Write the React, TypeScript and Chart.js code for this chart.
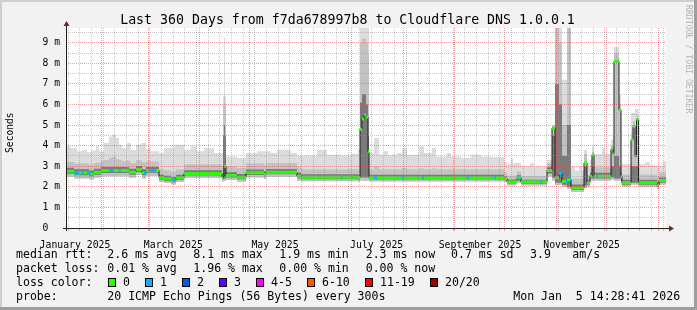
import { useEffect, useRef } from "react";
import { Chart, registerables } from "chart.js";

Chart.register(...registerables);

const W = 697;
const H = 310;
const MONO = '"DejaVu Sans Mono", monospace';

// ---- time frame (360 days ending Mon Jan 5 14:28:41 2026) ----
const END_MS = Date.UTC(2026, 0, 5, 14, 28, 41);
const SPAN_DAYS = 360;
const DAY_MS = 86400000;
const START_MS = END_MS - SPAN_DAYS * DAY_MS;

// ---- data: step breakpoints (days after start) and values in ms ----
const stepDays = [
  0, 3, 4.8, 6.6, 9.6, 12.6, 13.8, 15, 16.8, 18, 19.8, 21, 22.8, 25.8, 27.6, 30, 31.8, 33.6, 36.6, 37.8, 39, 42, 45, 45.6, 48, 51,
  55.8, 58.8, 63, 64.8, 66,
  70.8, 75, 78.6, 82.8, 88.8, 93.6, 94.2, 94.8, 95.4, 96, 102.6, 108, 114.6, 118.8, 120, 123, 126.6, 135, 138.6,
  141, 150.6, 156.6, 165, 171, 175.2,
  176.4, 177.6, 178.8, 180, 181.2,
  181.8, 184.8, 187.8, 190.8, 193.2, 198.6, 201.6, 204.6, 211.8, 214.8, 219.6, 222, 228.6, 231, 237, 243, 249, 255,
  262.8, 264.6, 267, 268.2, 270, 270.6, 273, 278.4, 280.8,
  288.6, 291.6, 293.4, 295.8, 297.6, 300.6, 303, 305.4, 307.8, 309.6, 310.8, 312.6, 314.4, 315.6, 316.8, 321.6, 323.4,
  327, 328.2, 328.8, 331.8, 333, 333.6, 339, 340.2, 341.4, 342.3, 343.5, 347.4, 350.4, 354.6, 355.8, 358.2,
];
const medianMs = [
  2.76, 2.76, 2.68, 2.68, 2.68, 2.68, 2.63, 2.63, 2.71, 2.71, 2.71, 2.79, 2.79, 2.79, 2.79, 2.79, 2.79, 2.79, 2.79, 2.71, 2.71, 2.84, 2.84, 2.68, 2.8, 2.8,
  2.44, 2.39, 2.32, 2.32, 2.44,
  2.65, 2.65, 2.65, 2.65, 2.65, 2.48, 2.48, 3.0, 3.0, 2.55, 2.47, 2.68, 2.68, 2.6, 2.71, 2.71, 2.71, 2.71, 2.52,
  2.47, 2.47, 2.47, 2.47, 2.47, 2.45,
  4.8, 5.3, 5.5, 5.4, 3.7,
  2.44, 2.44, 2.44, 2.44, 2.44, 2.44, 2.44, 2.44, 2.44, 2.44, 2.44, 2.44, 2.44, 2.44, 2.44, 2.44, 2.44, 2.44,
  2.4, 2.24, 2.24, 2.24, 2.3, 2.44, 2.23, 2.23, 2.23,
  2.8, 4.85, 2.44, 2.65, 2.27, 2.35, 1.95, 1.95, 1.95, 1.95, 3.16, 2.2, 2.52, 3.56, 2.52, 2.52, 2.52,
  3.84, 3.6, 8.1, 5.74, 2.5, 2.2, 4.29, 4.93, 3.48, 5.26, 2.2, 2.2, 2.2, 2.08, 2.31, 2.31,
];
const smokeLowMs = [
  2.49, 2.49, 2.41, 2.41, 2.41, 2.41, 2.36, 2.36, 2.44, 2.44, 2.44, 2.52, 2.52, 2.52, 2.52, 2.52, 2.52, 2.52, 2.52, 2.44, 2.44, 2.57, 2.57, 2.41, 2.53, 2.53,
  2.24, 2.19, 2.12, 2.12, 2.24,
  2.43, 2.43, 2.43, 2.43, 2.43, 2.26, 2.26, 2.3, 2.3, 2.33, 2.25, 2.46, 2.46, 2.38, 2.49, 2.49, 2.49, 2.49, 2.3,
  2.27, 2.27, 2.27, 2.27, 2.27, 2.25,
  2.3, 2.3, 2.3, 2.3, 2.3,
  2.26, 2.26, 2.26, 2.26, 2.26, 2.26, 2.26, 2.26, 2.26, 2.26, 2.26, 2.26, 2.26, 2.26, 2.26, 2.26, 2.26, 2.26,
  2.23, 2.07, 2.07, 2.07, 2.13, 2.2, 2.06, 2.06, 2.06,
  2.5, 2.3, 2.1, 2.1, 2.0, 1.9, 1.75, 1.75, 1.75, 1.75, 1.95, 2.0, 2.3, 2.3, 2.3, 2.3, 2.3,
  2.35, 2.35, 2.3, 2.3, 2.1, 2.0, 2.1, 2.1, 2.1, 2.1, 2.0, 2.0, 2.0, 1.9, 2.1, 2.1,
];
const smokeHighMs = [
  3.97, 3.89, 3.89, 3.73, 3.8, 3.68, 3.68, 3.77, 3.77, 3.97, 3.73, 3.73, 4.13, 4.45, 4.53, 4.37, 4.05, 3.89, 4.13, 4.13, 3.8, 4.05, 4.13, 4.13, 3.84, 3.73,
  3.65, 3.89, 3.89, 4.05, 4.05,
  3.8, 3.97, 3.73, 3.89, 3.65, 3.65, 6.4, 9.27, 6.4, 3.48, 3.4, 3.65, 3.73, 3.73, 3.73, 3.65, 3.8, 3.65, 3.52,
  3.52, 3.8, 3.56, 3.52, 3.61, 3.8,
  9.72, 9.72, 9.72, 9.72, 9.72,
  3.65, 4.37, 3.56, 3.73, 3.56, 3.65, 3.89, 3.56, 3.97, 3.65, 3.89, 3.48, 3.65, 3.48, 3.4, 3.56, 3.48, 3.45,
  3.2, 3.1, 3.4, 3.16, 3.16, 3.16, 3.0, 3.16, 3.0,
  3.3, 5.0, 9.72, 9.72, 7.2, 9.72, 3.0, 2.8, 3.0, 2.8, 3.8, 3.0, 3.3, 3.96, 3.6, 3.9, 3.6,
  4.3, 4.5, 8.8, 6.45, 3.1, 3.1, 5.6, 5.6, 5.8, 5.8, 3.1, 3.2, 3.05, 3.0, 3.0, 3.24,
];
const smokeMidMs = [
  3.21, 3.21, 3.13, 3.13, 3.13, 3.13, 3.08, 3.08, 3.16, 3.16, 3.16, 3.24, 3.3, 3.4, 3.45, 3.35, 3.3, 3.24, 3.3, 3.25, 3.16, 3.29, 3.29, 3.2, 3.25, 3.25,
  2.86, 2.81, 2.74, 2.74, 2.86,
  3.1, 3.1, 3.1, 3.1, 3.1, 2.93, 6.0, 6.4, 6.0, 3.0, 2.92, 3.13, 3.13, 3.05, 3.16, 3.16, 3.16, 3.16, 2.97,
  2.85, 2.85, 2.85, 2.85, 2.85, 2.83,
  9.0, 9.2, 9.2, 9.0, 8.5,
  2.86, 3.0, 2.86, 2.86, 2.86, 2.86, 2.9, 2.86, 2.9, 2.86, 2.9, 2.86, 2.86, 2.86, 2.86, 2.86, 2.86, 2.86,
  2.7, 2.54, 2.54, 2.54, 2.6, 2.74, 2.53, 2.53, 2.53,
  3.15, 4.95, 9.72, 9.0, 5.0, 9.72, 2.4, 2.4, 2.4, 2.4, 3.6, 2.6, 2.9, 3.7, 2.95, 2.95, 2.95,
  4.0, 4.0, 8.5, 6.0, 2.8, 2.6, 4.6, 5.2, 5.0, 5.5, 2.6, 2.6, 2.6, 2.5, 2.7, 2.7,
];
const coreLowMs = [
  2.64, 2.64, 2.56, 2.56, 2.56, 2.56, 2.51, 2.51, 2.59, 2.59, 2.59, 2.67, 2.67, 2.67, 2.67, 2.67, 2.67, 2.67, 2.67, 2.59, 2.59, 2.72, 2.72, 2.56, 2.68, 2.68,
  2.34, 2.29, 2.22, 2.22, 2.34,
  2.55, 2.55, 2.55, 2.55, 2.55, 2.38, 2.38, 2.4, 2.4, 2.45, 2.37, 2.58, 2.58, 2.5, 2.61, 2.61, 2.61, 2.61, 2.42,
  2.37, 2.37, 2.37, 2.37, 2.37, 2.35,
  2.45, 2.45, 2.45, 2.45, 2.45,
  2.36, 2.36, 2.36, 2.36, 2.36, 2.36, 2.36, 2.36, 2.36, 2.36, 2.36, 2.36, 2.36, 2.36, 2.36, 2.36, 2.36, 2.36,
  2.32, 2.16, 2.16, 2.16, 2.22, 2.3, 2.15, 2.15, 2.15,
  2.65, 2.45, 2.2, 2.2, 2.1, 2.0, 1.85, 1.85, 1.85, 1.85, 2.05, 2.1, 2.4, 2.4, 2.4, 2.4, 2.4,
  2.45, 2.45, 2.4, 2.4, 2.3, 2.1, 2.2, 2.2, 2.2, 2.2, 2.1, 2.1, 2.1, 2.0, 2.2, 2.2,
];
const coreHighMs = [
  2.93, 2.93, 2.85, 2.85, 2.85, 2.85, 2.8, 2.8, 2.88, 2.88, 2.88, 2.96, 2.96, 2.96, 2.96, 2.96, 2.96, 2.96, 2.96, 2.88, 2.88, 3.01, 3.01, 2.85, 2.97, 2.97,
  2.59, 2.54, 2.47, 2.47, 2.59,
  2.81, 2.81, 2.81, 2.81, 2.81, 2.64, 4.5, 5.0, 4.5, 2.71, 2.63, 2.84, 2.84, 2.76, 2.87, 2.87, 2.87, 2.87, 2.68,
  2.61, 2.61, 2.61, 2.61, 2.61, 2.59,
  6.1, 6.5, 6.5, 6.0, 4.5,
  2.59, 2.59, 2.59, 2.59, 2.59, 2.59, 2.59, 2.59, 2.59, 2.59, 2.59, 2.59, 2.59, 2.59, 2.59, 2.59, 2.59, 2.59,
  2.52, 2.36, 2.36, 2.36, 2.42, 2.56, 2.35, 2.35, 2.35,
  2.95, 4.5, 7.0, 6.0, 3.5, 5.0, 2.12, 2.12, 2.12, 2.12, 3.0, 2.35, 2.68, 3.0, 2.68, 2.68, 2.68,
  3.0, 3.0, 3.5, 3.0, 2.65, 2.35, 3.0, 3.0, 3.0, 3.0, 2.35, 2.35, 2.35, 2.25, 2.45, 2.45,
];
// intervals where the median carries the "1 lost" colour
const loss1FromDays = [4.8, 9.6, 12.6, 25.8, 31.8, 46.8, 49.8, 63.6, 165, 184.8, 201.6, 213.6, 240.6, 256.8, 272.4, 284.4, 295.8, 300, 302.4, 318];
const loss1ToDays = [7.8, 10.8, 15, 28.8, 33, 48.6, 54, 66, 165.9, 186.6, 202.5, 214.8, 241.8, 258, 273, 285.6, 297.6, 300.9, 303, 318.9];

// ---- tick labels ----
const monthLabels = ["January 2025", "March 2025", "May 2025", "July 2025", "September 2025", "November 2025"];
const labelMonths = [0, 2, 4, 6, 8, 10];
const yTickValues = [0, 0.5, 1, 1.5, 2, 2.5, 3, 3.5, 4, 4.5, 5, 5.5, 6, 6.5, 7, 7.5, 8, 8.5, 9, 9.5];
const yTickLabels = ["0  ", "", "1 m", "", "2 m", "", "3 m", "", "4 m", "", "5 m", "", "6 m", "", "7 m", "", "8 m", "", "9 m", ""];

// ---- texts ----
const titleText = "Last 360 Days from f7da678997b8 to Cloudflare DNS 1.0.0.1";
const yTitle = "Seconds";
const watermark = "RRDTOOL / TOBI OETIKER";
const rttLine = ["median rtt:", "2.6 ms avg", "8.1 ms max", "1.9 ms min", "2.3 ms now", "0.7 ms sd", "3.9", "am/s"];
const lossLine = ["packet loss:", "0.01 % avg", "1.96 % max", "0.00 % min", "0.00 % now"];
const lossColorTitle = "loss color:";
const lossColorLabels = ["0", "1", "2", "3", "4-5", "6-10", "11-19", "20/20"];
const lossColors = ["#26ff00", "#00b8ff", "#0059ff", "#5e00ff", "#ff00ff", "#ff5500", "#ff0000", "#a10000"];
const probeLine = ["probe:", "20 ICMP Echo Pings (56 Bytes) every 300s", "Mon Jan  5 14:28:41 2026"];

const GRID = "rgba(143,143,143,0.5)";
const MGRID = "rgba(222,79,79,0.55)";

const dayOf = (ms: number) => (ms - START_MS) / DAY_MS;

function monthStarts(): number[] {
  const out: number[] = [];
  for (let m = 0; m <= 12; m++) {
    const d = dayOf(Date.UTC(2025, m, 1));
    if (d >= 0 && d <= SPAN_DAYS) out.push(d);
  }
  return out;
}
function weekStarts(): number[] {
  const out: number[] = [];
  let t = Date.UTC(2025, 0, 12); // Sunday
  while (dayOf(t) <= SPAN_DAYS) {
    out.push(dayOf(t));
    t += 7 * DAY_MS;
  }
  return out;
}

function stepPoints(vals: number[]) {
  const pts = stepDays.map((x, i) => ({ x, y: vals[i] }));
  pts.push({ x: SPAN_DAYS, y: vals[vals.length - 1] });
  return pts;
}
function medianAt(day: number): number {
  let idx = 0;
  for (let i = 0; i < stepDays.length; i++) if (stepDays[i] <= day) idx = i;
  return medianMs[idx];
}

export default function App() {
  const ref = useRef<HTMLCanvasElement>(null);
  useEffect(() => {
    const prevMargin = document.body.style.margin;
    document.body.style.margin = "0";

    const months = monthStarts();
    const monthSet = new Set(months);
    const weeks = weekStarts().filter((w) => months.every((m) => Math.abs(m - w) > 0.01));
    const gridDays = [...months, ...weeks].sort((a, b) => a - b);
    const labelDays = labelMonths.map((m) => dayOf(Date.UTC(2025, m, 1)) + 15);

    const greenPts: { x: number; y: number | null }[] = [];
    stepDays.forEach((x, i) => {
      const x2 = i + 1 < stepDays.length ? stepDays[i + 1] : SPAN_DAYS;
      greenPts.push({ x, y: medianMs[i] }, { x: x2, y: medianMs[i] }, { x: x2, y: null });
    });
    const bluePts: { x: number; y: number | null }[] = [];
    loss1FromDays.forEach((a, i) => {
      const v = medianAt(a);
      bluePts.push({ x: a, y: v }, { x: loss1ToDays[i], y: v }, { x: loss1ToDays[i], y: null });
    });

    const none = "rgba(0,0,0,0)";
    const bandBase = { stepped: true, borderWidth: 0, borderColor: none, pointRadius: 0, xAxisID: "x", yAxisID: "y" };

    const rrdPlugin = {
      id: "rrdDecor",
      beforeDraw(chart: any) {
        const { ctx, chartArea: a } = chart;
        ctx.save();
        ctx.fillStyle = "#f2f2f2";
        ctx.fillRect(0, 0, W, H);
        ctx.fillStyle = "#cfcfcf";
        ctx.fillRect(0, 0, W, 2);
        ctx.fillRect(0, 0, 2, H);
        ctx.fillStyle = "#9e9e9e";
        ctx.fillRect(W - 3, 0, 3, H);
        ctx.fillRect(0, H - 3, W, 3);
        ctx.fillStyle = "#ffffff";
        ctx.fillRect(a.left, a.top, a.right - a.left, a.bottom - a.top);
        ctx.restore();
      },
      afterDraw(chart: any) {
        const { ctx, chartArea: a } = chart;
        ctx.save();
        // axes
        ctx.strokeStyle = "#1f1f1f";
        ctx.lineWidth = 1;
        ctx.beginPath();
        ctx.moveTo(a.left + 0.5, a.bottom + 3);
        ctx.lineTo(a.left + 0.5, a.top - 2);
        ctx.moveTo(a.left - 3, a.bottom + 0.5);
        ctx.lineTo(a.right + 4, a.bottom + 0.5);
        ctx.stroke();
        ctx.fillStyle = "#801f1f";
        ctx.beginPath();
        ctx.moveTo(a.left - 2.5, a.top - 2);
        ctx.lineTo(a.left + 3.5, a.top - 2);
        ctx.lineTo(a.left + 0.5, a.top - 7);
        ctx.closePath();
        ctx.fill();
        ctx.beginPath();
        ctx.moveTo(a.right + 3, a.bottom - 2.5);
        ctx.lineTo(a.right + 3, a.bottom + 3.5);
        ctx.lineTo(a.right + 8, a.bottom + 0.5);
        ctx.closePath();
        ctx.fill();

        // title
        ctx.fillStyle = "#000";
        ctx.textBaseline = "alphabetic";
        ctx.textAlign = "center";
        ctx.font = `13.25px ${MONO}`;
        ctx.fillText(titleText, 347.5, 23.5);

        // y title
        ctx.save();
        ctx.translate(10, 132.7);
        ctx.rotate(-Math.PI / 2);
        ctx.textBaseline = "middle";
        ctx.font = `9.6px ${MONO}`;
        ctx.fillText(yTitle, 0, 0);
        ctx.restore();

        // watermark
        ctx.save();
        ctx.translate(687.7, 5);
        ctx.rotate(Math.PI / 2);
        ctx.textAlign = "left";
        ctx.textBaseline = "middle";
        ctx.fillStyle = "#b4b4b4";
        ctx.font = `8.2px ${MONO}`;
        ctx.fillText(watermark, 0, 0);
        ctx.restore();

        // legend
        ctx.textAlign = "left";
        ctx.font = `11.55px ${MONO}`;
        ctx.fillStyle = "#000";
        const rttX = [16, 107.3, 193.3, 279.3, 365.7, 451, 530, 572.3];
        rttLine.forEach((s, i) => ctx.fillText(s, rttX[i], 258));
        const lossX = [16, 107.3, 193.3, 279.3, 365.7];
        lossLine.forEach((s, i) => ctx.fillText(s, lossX[i], 272));
        ctx.fillText(lossColorTitle, 16, 286);
        const boxX = [108, 145, 182, 219, 256, 307, 365, 430];
        lossColorLabels.forEach((s, i) => {
          ctx.fillStyle = "#000";
          ctx.fillRect(boxX[i], 278, 8, 9);
          ctx.fillStyle = lossColors[i];
          ctx.fillRect(boxX[i] + 1, 279, 6, 7);
          ctx.fillStyle = "#000";
          ctx.fillText(s, boxX[i] + 15, 286);
        });
        const probeX = [16, 107.3, 513.3];
        probeLine.forEach((s, i) => ctx.fillText(s, probeX[i], 300));
        ctx.restore();
      },
    };

    const chart = new Chart(ref.current as HTMLCanvasElement, {
      type: "line",
      data: {
        datasets: [
          { ...bandBase, data: stepPoints(smokeLowMs), backgroundColor: none, fill: false, order: 100 },
          { ...bandBase, data: stepPoints(smokeHighMs), backgroundColor: "#dcdcdc", fill: 0, order: 90 },
          { ...bandBase, data: stepPoints(smokeMidMs), backgroundColor: "#c2c2c2", fill: 0, order: 80 },
          { ...bandBase, data: stepPoints(coreLowMs), backgroundColor: none, fill: false, order: 100 },
          { ...bandBase, data: stepPoints(coreHighMs), backgroundColor: "#7a7a7a", fill: 3, order: 70 },
          {
            data: stepPoints(medianMs), stepped: true, borderWidth: 1, borderColor: "#1f1f1f",
            pointRadius: 0, fill: false, order: 30, xAxisID: "x", yAxisID: "y",
          },
          {
            data: greenPts, borderWidth: 3, borderColor: lossColors[0], borderCapStyle: "butt",
            pointRadius: 0, fill: false, spanGaps: false, order: 20, xAxisID: "x", yAxisID: "y",
          },
          {
            data: bluePts, borderWidth: 3, borderColor: lossColors[1], borderCapStyle: "butt",
            pointRadius: 0, fill: false, spanGaps: false, order: 10, xAxisID: "x", yAxisID: "y",
          },
        ] as any,
      },
      options: {
        responsive: false,
        animation: false,
        devicePixelRatio: 1,
        events: [],
        layout: { padding: { top: 28, right: 31, bottom: 0, left: 0 } },
        plugins: { legend: { display: false }, tooltip: { enabled: false }, title: { display: false } },
        scales: {
          x: {
            type: "linear", position: "bottom", min: 0, max: SPAN_DAYS, weight: 0,
            afterBuildTicks: (ax: any) => { ax.ticks = gridDays.map((v) => ({ value: v })); },
            afterFit: (ax: any) => { ax.height = 3; },
            ticks: { display: false },
            grid: {
              z: 1, lineWidth: 1, drawTicks: true, tickLength: 3, tickBorderDash: [],
              color: (c: any) => (c.tick && monthSet.has(c.tick.value) ? MGRID : GRID),
              tickColor: (c: any) => (c.tick && monthSet.has(c.tick.value) ? MGRID : GRID),
            },
            border: { display: false, dash: [1, 1] },
          },
          x2: {
            type: "linear", position: "bottom", min: 0, max: SPAN_DAYS, weight: 1,
            afterBuildTicks: (ax: any) => { ax.ticks = labelDays.map((v) => ({ value: v })); },
            afterFit: (ax: any) => { ax.height = 79; },
            ticks: {
              autoSkip: false, maxRotation: 0, minRotation: 0, padding: 1, color: "#000",
              font: { family: MONO, size: 9.8, lineHeight: 1.2 },
              callback: (_v: any, i: number) => monthLabels[i],
            },
            grid: { display: false },
            border: { display: false },
          },
          y: {
            type: "linear", position: "left", min: 0, max: 9.72,
            afterBuildTicks: (ax: any) => { ax.ticks = yTickValues.map((v) => ({ value: v })); },
            afterFit: (ax: any) => { ax.width = 66; },
            ticks: {
              autoSkip: false, padding: 6, color: "#000",
              font: { family: MONO, size: 9.7, lineHeight: 1.2 },
              callback: (_v: any, i: number) => yTickLabels[i],
            },
            grid: {
              z: 1, lineWidth: 1, drawTicks: false,
              color: (c: any) => (c.tick && c.tick.value % 1 === 0 ? MGRID : GRID),
            },
            border: { display: false, dash: [1, 1] },
          },
        } as any,
      },
      plugins: [rrdPlugin as any],
    });

    return () => {
      chart.destroy();
      document.body.style.margin = prevMargin;
    };
  }, []);

  return <canvas ref={ref} width={W} height={H} style={{ display: "block", width: W, height: H }} />;
}
